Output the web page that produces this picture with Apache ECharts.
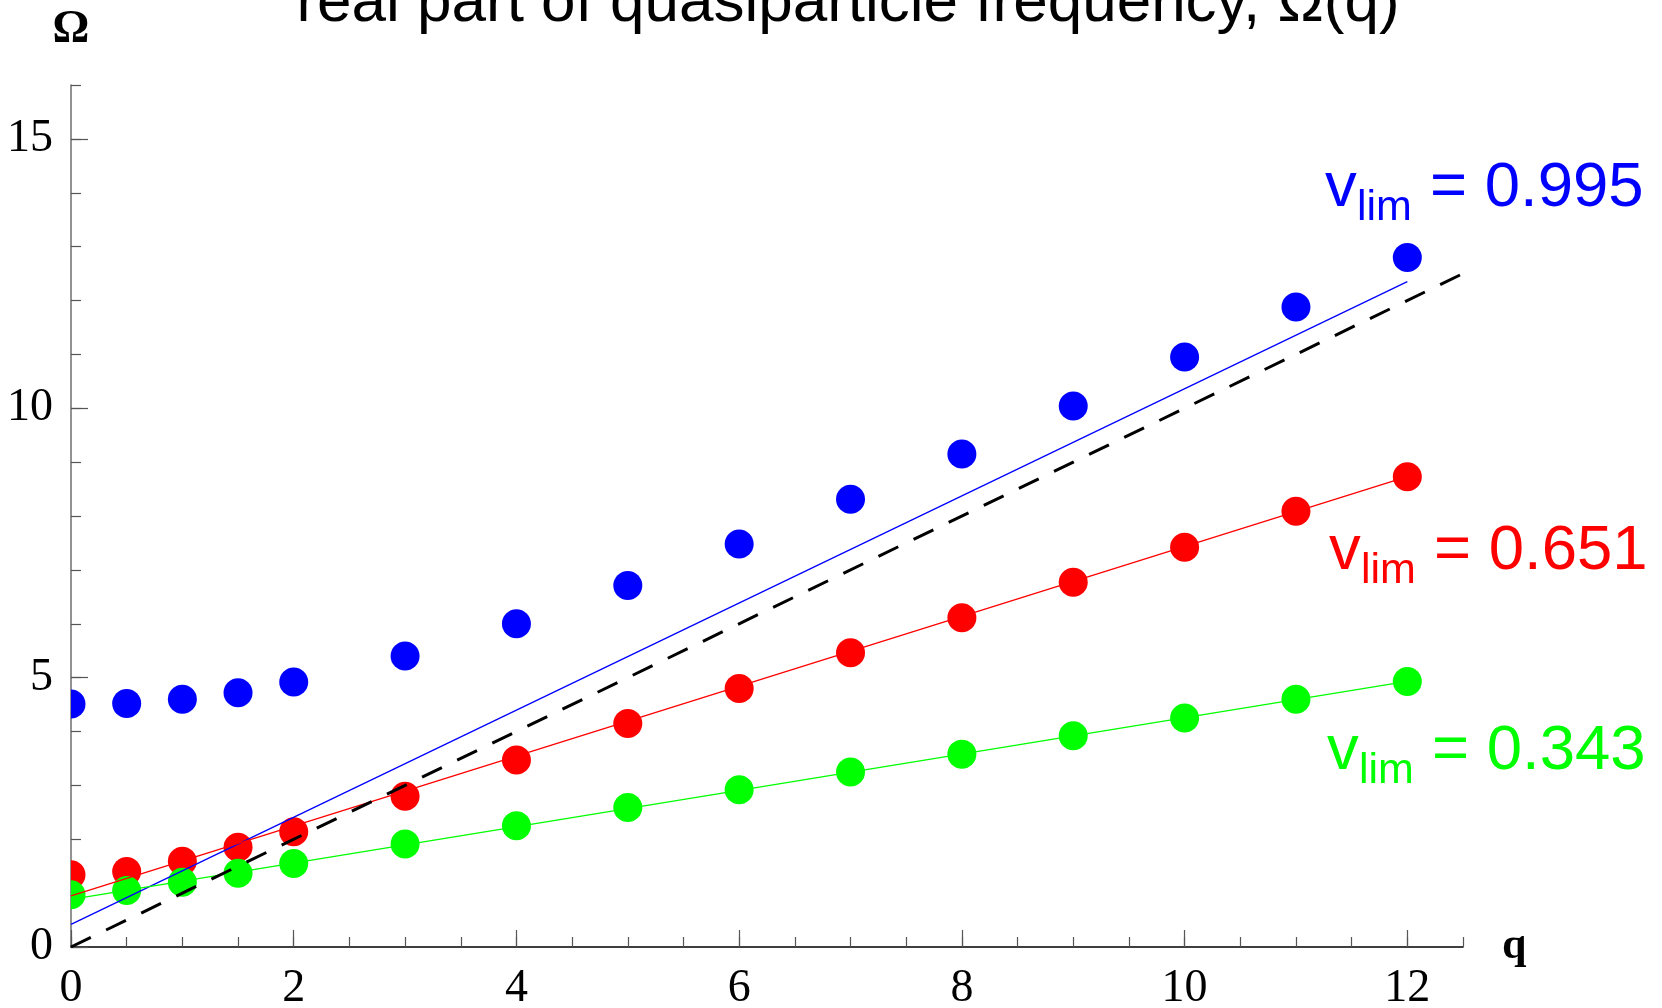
<!DOCTYPE html>
<html>
<head>
<meta charset="utf-8">
<script src="https://cdn.jsdelivr.net/npm/echarts@6/dist/echarts.min.js"></script>
<style>
html,body{margin:0;padding:0;background:#fff;}
#chart{width:1662px;height:1008px;}
</style>
</head>
<body>
<div id="chart"></div>
<script>
// ---- data ----
const qValues    = [0, 0.5, 1, 1.5, 2, 3, 4, 5, 6, 7, 8, 9, 10, 11, 12];
const omegaBlue  = [4.51, 4.52, 4.60, 4.72, 4.92, 5.40, 6.00, 6.71, 7.48, 8.31, 9.15, 10.04, 10.95, 11.88, 12.80];
const omegaRed   = [1.34, 1.40, 1.59, 1.85, 2.14, 2.80, 3.47, 4.15, 4.80, 5.46, 6.11, 6.77, 7.42, 8.09, 8.73];
const omegaGreen = [0.97, 1.05, 1.20, 1.37, 1.55, 1.91, 2.25, 2.59, 2.92, 3.25, 3.58, 3.92, 4.25, 4.60, 4.93];

const fitQ      = [0, 12];
const fitBlue   = [0.42, 12.35];
const fitRed    = [0.95, 8.73];
const fitGreen  = [0.885, 4.93];

const lightQ     = [0, 12.5];
const lightOmega = [0, 12.5];

const xTickLabels = [0, 2, 4, 6, 8, 10, 12];
const yTickLabels = [0, 5, 10, 15];

const vlimValues = ['0.995', '0.651', '0.343'];
const titleText = 'real part of quasiparticle frequency, \u03A9(q)';

// ---- helpers ----
const zip = (xs, ys) => xs.map((x, i) => [x, ys[i]]);

const BLUE = '#0000ff', RED = '#ff0000', GREEN = '#00ff00';
const serif = 'Liberation Serif';
const sans = 'Liberation Sans';
const DOT_R = 14.5;

const chart = echarts.init(document.getElementById('chart'), null, {renderer: 'canvas'});

function dotSeries(name, ys, color) {
  return {
    type: 'custom', name: name, data: zip(qValues, ys),
    encode: {x: 0, y: 1}, clip: true, z: 2,
    renderItem: function (params, api) {
      const p = api.coord([api.value(0), api.value(1)]);
      return {type: 'circle', shape: {cx: p[0], cy: p[1], r: DOT_R}, style: {fill: color}};
    }
  };
}

function vlimLabel(value, color, left, baseline) {
  return [
    {type: 'text', left: left, top: baseline - 51, style: {text: 'v', fill: color, font: '63.5px "' + sans + '"'}},
    {type: 'text', left: left + 32, top: baseline - 20, style: {text: 'lim', fill: color, font: '43px "' + sans + '"'}},
    {type: 'text', left: left + 105, top: baseline - 51, style: {text: '= ' + value, fill: color, font: '63.5px "' + sans + '"'}}
  ];
}

const option = {
  animation: false,
  backgroundColor: '#ffffff',
  title: {
    text: titleText,
    left: 848,
    top: -27,
    textAlign: 'center',
    padding: 0,
    textStyle: {fontFamily: sans, fontSize: 62, fontWeight: 'normal', color: '#000'}
  },
  grid: {left: 71, right: 199, top: 85, bottom: 61, containLabel: false, outerBoundsMode: 'none'},
  xAxis: [
    {
      type: 'value', min: 0, max: 12.5, interval: 0.5, position: 'bottom',
      name: 'q', nameLocation: 'end', nameGap: 39,
      nameTextStyle: {fontFamily: serif, fontWeight: 'bold', fontSize: 44, color: '#000'},
      axisLine: {show: true, onZero: false, lineStyle: {color: '#000', width: 1.6}},
      axisTick: {show: true, inside: true, length: 10, lineStyle: {color: '#555', width: 1.2}},
      axisLabel: {show: true, customValues: xTickLabels, margin: 19, fontFamily: serif, fontSize: 46, color: '#000'},
      splitLine: {show: false}
    },
    {
      type: 'value', min: 0, max: 12.5, position: 'bottom',
      axisLine: {show: false, onZero: false},
      axisTick: {show: true, inside: true, length: 17, customValues: xTickLabels, lineStyle: {color: '#555', width: 1.2}},
      axisLabel: {show: false},
      splitLine: {show: false}
    }
  ],
  yAxis: [
    {
      type: 'value', min: 0, max: 16, interval: 1, position: 'left',
      name: '\u03A9', nameLocation: 'end', nameGap: 32,
      nameTextStyle: {fontFamily: serif, fontWeight: 'bold', fontSize: 46, color: '#000'},
      axisLine: {show: true, onZero: false, lineStyle: {color: '#777', width: 1.6}},
      axisTick: {show: true, inside: true, length: 10, lineStyle: {color: '#555', width: 1.2}},
      axisLabel: {show: true, customValues: yTickLabels, margin: 18, fontFamily: serif, fontSize: 46, color: '#000'},
      splitLine: {show: false}
    },
    {
      type: 'value', min: 0, max: 16, position: 'left',
      axisLine: {show: false, onZero: false},
      axisTick: {show: true, inside: true, length: 17, customValues: yTickLabels, lineStyle: {color: '#555', width: 1.2}},
      axisLabel: {show: false},
      splitLine: {show: false}
    }
  ],
  series: [
    dotSeries('blue', omegaBlue, BLUE),
    dotSeries('red', omegaRed, RED),
    dotSeries('green', omegaGreen, GREEN),
    {type: 'line', name: 'blue fit', data: zip(fitQ, fitBlue), showSymbol: false, symbol: 'none', lineStyle: {color: BLUE, width: 1.3}, z: 3},
    {type: 'line', name: 'red fit', data: zip(fitQ, fitRed), showSymbol: false, symbol: 'none', lineStyle: {color: RED, width: 1.3}, z: 3},
    {type: 'line', name: 'green fit', data: zip(fitQ, fitGreen), showSymbol: false, symbol: 'none', lineStyle: {color: GREEN, width: 1.3}, z: 3},
    {type: 'line', name: 'light cone', data: zip(lightQ, lightOmega), showSymbol: false, symbol: 'none', lineStyle: {color: '#000', width: 3, type: [22, 17]}, z: 4}
  ],
  graphic: [].concat(
    vlimLabel(vlimValues[0], BLUE, 1325, 207),
    vlimLabel(vlimValues[1], RED, 1329, 570),
    vlimLabel(vlimValues[2], GREEN, 1327, 770)
  )
};

chart.setOption(option);
</script>
</body>
</html>
